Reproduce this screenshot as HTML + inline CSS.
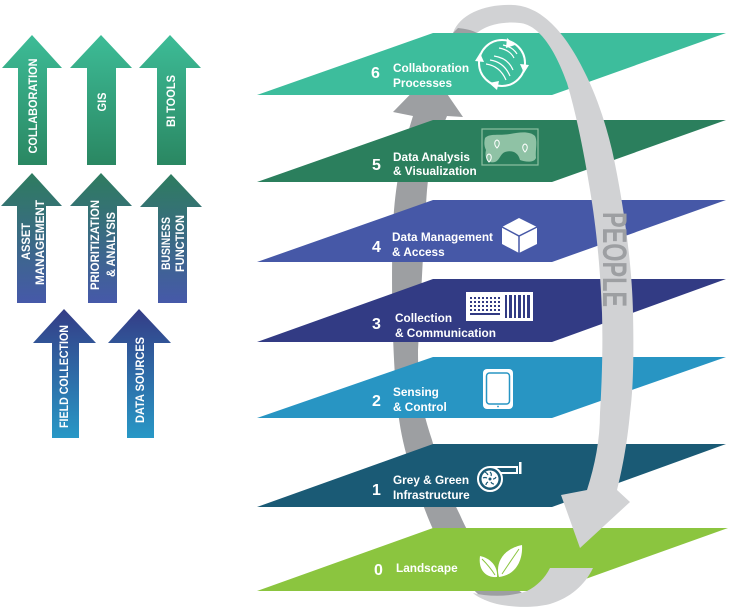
<!DOCTYPE html>
<html>
<head>
<meta charset="utf-8">
<style>
html,body{margin:0;padding:0;background:#fff;}
svg{display:block;}
text{font-family:"Liberation Sans",Arial,sans-serif;font-weight:bold;}
</style>
</head>
<body>
<svg width="743" height="616" viewBox="0 0 743 616" xmlns="http://www.w3.org/2000/svg">
<defs>
  <linearGradient id="g1" x1="0" y1="0" x2="0" y2="1">
    <stop offset="0" stop-color="#3dbc97"/>
    <stop offset="1" stop-color="#2a8762"/>
  </linearGradient>
  <linearGradient id="g2" x1="0" y1="0" x2="0" y2="1">
    <stop offset="0" stop-color="#2e7c5f"/>
    <stop offset="1" stop-color="#4659a9"/>
  </linearGradient>
  <linearGradient id="g3" x1="0" y1="0" x2="0" y2="1">
    <stop offset="0" stop-color="#343c86"/>
    <stop offset="1" stop-color="#2898c6"/>
  </linearGradient>
</defs>
<rect width="743" height="616" fill="#fff"/>

<!-- Left arrows -->
<polygon points="32,35 62,68 47,68 47,165 18,165 18,68 2,68" fill="url(#g1)"/>
<polygon points="101,35 132,68 116,68 116,165 87,165 87,68 70,68" fill="url(#g1)"/>
<polygon points="170,35 201,68 186,68 186,165 157,165 157,68 139,68" fill="url(#g1)"/>
<polygon points="32,173 62,206 46,206 46,303 17,303 17,206 1,206" fill="url(#g2)"/>
<polygon points="101,173 132,206 117,206 117,303 88,303 88,206 70,206" fill="url(#g2)"/>
<polygon points="171,174 202,207 187,207 187,303 158,303 158,207 140,207" fill="url(#g2)"/>
<polygon points="64,309 96,343 79,343 79,438 52,438 52,343 33,343" fill="url(#g3)"/>
<polygon points="139,309 171,343 154,343 154,438 127,438 127,343 108,343" fill="url(#g3)"/>

<g fill="#fff" font-size="12" text-anchor="middle">
  <text transform="translate(37,106) rotate(-90)" textLength="95" lengthAdjust="spacingAndGlyphs">COLLABORATION</text>
  <text transform="translate(106,102) rotate(-90)" textLength="19" lengthAdjust="spacingAndGlyphs">GIS</text>
  <text transform="translate(175,101) rotate(-90)" textLength="52" lengthAdjust="spacingAndGlyphs">BI TOOLS</text>
  <text transform="translate(30,241.5) rotate(-90)" textLength="37" lengthAdjust="spacingAndGlyphs">ASSET</text>
  <text transform="translate(44,242.5) rotate(-90)" textLength="85" lengthAdjust="spacingAndGlyphs">MANAGEMENT</text>
  <text transform="translate(99,245) rotate(-90)" textLength="90" lengthAdjust="spacingAndGlyphs">PRIORITIZATION</text>
  <text transform="translate(115,244.5) rotate(-90)" textLength="65" lengthAdjust="spacingAndGlyphs">&amp; ANALYSIS</text>
  <text transform="translate(170,243.5) rotate(-90)" textLength="53" lengthAdjust="spacingAndGlyphs">BUSINESS</text>
  <text transform="translate(184,243.5) rotate(-90)" textLength="57" lengthAdjust="spacingAndGlyphs">FUNCTION</text>
  <text transform="translate(68,376.5) rotate(-90)" textLength="103" lengthAdjust="spacingAndGlyphs">FIELD COLLECTION</text>
  <text transform="translate(144,380) rotate(-90)" textLength="86" lengthAdjust="spacingAndGlyphs">DATA SOURCES</text>
</g>

<!-- Dark gray band (behind layers) -->
<path d="M413,116 L393,112 L432,72 L463,117 L447,116 C437,140 429,165 427,190 C424,230 421,300 418,350 C418,390 422,410 432,440 C440,470 450,495 460,515 C475,550 500,580 530,598 L485,600 C460,580 440,550 425,510 C410,470 400,440 397,400 C392,350 391,270 393,230 C394,190 402,150 413,116 Z" fill="#9d9fa2"/>

<!-- Layers -->
<polygon points="433,33 726,33 552,95 257,95" fill="#3dbd9c"/>
<polygon points="433,120 726,120 552,182 257,182" fill="#2b7f5d"/>
<polygon points="433,200 726,200 552,262 257,262" fill="#4658a7"/>
<polygon points="433,279 726,279 552,342 257,342" fill="#323b84"/>
<polygon points="433,357 726,357 552,418 257,418" fill="#2895c3"/>
<polygon points="433,444 726,444 552,507 257,507" fill="#1a5a75"/>
<polygon points="433,528 728,528 552,591 257,591" fill="#8bc53f"/>

<!-- Layer labels -->
<g fill="#fff">
  <text x="371" y="78" font-size="16">6</text>
  <text x="393" y="72" font-size="11.8">Collaboration</text>
  <text x="393" y="87" font-size="11.8">Processes</text>

  <text x="372" y="170" font-size="16">5</text>
  <text x="393" y="161" font-size="11.8">Data Analysis</text>
  <text x="393" y="175" font-size="11.8">&amp; Visualization</text>

  <text x="372" y="252" font-size="16">4</text>
  <text x="392" y="241" font-size="11.8">Data Management</text>
  <text x="392" y="256" font-size="11.8">&amp; Access</text>

  <text x="372" y="329" font-size="16">3</text>
  <text x="395" y="322" font-size="11.8">Collection</text>
  <text x="395" y="337" font-size="11.8">&amp; Communication</text>

  <text x="372" y="406" font-size="16">2</text>
  <text x="393" y="396" font-size="11.8">Sensing</text>
  <text x="393" y="411" font-size="11.8">&amp; Control</text>

  <text x="372" y="495" font-size="16">1</text>
  <text x="393" y="484" font-size="11.8">Grey &amp; Green</text>
  <text x="393" y="499" font-size="11.8">Infrastructure</text>

  <text x="374" y="575" font-size="16">0</text>
  <text x="396" y="572" font-size="11.8">Landscape</text>
</g>

<!-- Icon 6: collaboration cycle -->
<g>
  <circle cx="502" cy="63" r="23" fill="none" stroke="#fff" stroke-width="2"/>
  <polygon points="515,45 507,38 506,48" fill="#fff"/>
  <polygon points="524,73 520,64 529,65" fill="#fff"/>
  <polygon points="489,83 499,81 497,90" fill="#fff"/>
  <polygon points="480,53 484,62 475,61" fill="#fff"/>
  <g fill="none" stroke="#fff" stroke-width="1.2">
    <path d="M486,64 Q500,66 506,80"/>
    <path d="M490,60 Q504,62 510,76"/>
    <path d="M494,56 Q508,58 513,70"/>
    <path d="M499,48 Q510,50 514,58"/>
    <path d="M503,45 Q513,47 517,54"/>
  </g>
</g>

<!-- Icon 5: map -->
<g>
  <rect x="482" y="129" width="56" height="36" fill="none" stroke="#8dc0a2" stroke-width="1.2"/>
  <path d="M485,138 C490,133 500,136 510,134 C520,132 530,131 535,136 C538,142 535,150 536,158 C534,163 525,162 520,160 C518,152 512,150 505,152 C500,154 500,160 495,162 C488,164 484,158 486,150 C484,146 484,142 485,138 Z" fill="#8fc2a5"/>
  <g fill="none" stroke="#fff" stroke-width="1">
    <path d="M497,148 C494,145 494,141 497,140 C500,141 500,145 497,148 Z"/>
    <path d="M525,152 C522,149 522,145 525,144 C528,145 528,149 525,152 Z"/>
    <path d="M489,162 C486,159 486,155 489,154 C492,155 492,159 489,162 Z"/>
  </g>
</g>

<!-- Icon 4: cube -->
<g>
  <polygon points="519,218 537,227 537,244 519,253 502,244 502,227" fill="#fff"/>
  <polyline points="502,227 519,236 537,227" fill="none" stroke="#4658a7" stroke-width="1.5"/>
  <line x1="519" y1="236" x2="519" y2="253" stroke="#4658a7" stroke-width="1.5"/>
</g>

<!-- Icon 3: keyboard + barcode -->
<g>
  <rect x="466" y="292" width="67" height="29" fill="#fff"/>
  <g fill="#323b84">
    <rect x="470" y="297" width="2" height="2"/><rect x="474" y="297" width="2" height="2"/><rect x="478" y="297" width="2" height="2"/><rect x="482" y="297" width="2" height="2"/><rect x="486" y="297" width="2" height="2"/><rect x="490" y="297" width="2" height="2"/><rect x="494" y="297" width="2" height="2"/><rect x="498" y="297" width="2" height="2"/>
    <rect x="470" y="301" width="2" height="2"/><rect x="474" y="301" width="2" height="2"/><rect x="478" y="301" width="2" height="2"/><rect x="482" y="301" width="2" height="2"/><rect x="486" y="301" width="2" height="2"/><rect x="490" y="301" width="2" height="2"/><rect x="494" y="301" width="2" height="2"/><rect x="498" y="301" width="2" height="2"/>
    <rect x="470" y="305" width="2" height="2"/><rect x="474" y="305" width="2" height="2"/><rect x="478" y="305" width="2" height="2"/><rect x="482" y="305" width="2" height="2"/><rect x="486" y="305" width="2" height="2"/><rect x="490" y="305" width="2" height="2"/><rect x="494" y="305" width="2" height="2"/><rect x="498" y="305" width="2" height="2"/>
    <rect x="470" y="309" width="2" height="2"/><rect x="474" y="309" width="2" height="2"/><rect x="478" y="309" width="2" height="2"/><rect x="482" y="309" width="2" height="2"/><rect x="486" y="309" width="2" height="2"/><rect x="490" y="309" width="2" height="2"/><rect x="494" y="309" width="2" height="2"/><rect x="498" y="309" width="2" height="2"/>
    <rect x="470" y="313" width="30" height="2"/>
    <rect x="505" y="295" width="2" height="23"/>
    <rect x="509" y="295" width="3" height="23"/>
    <rect x="514" y="295" width="2" height="23"/>
    <rect x="518" y="295" width="3" height="23"/>
    <rect x="523" y="295" width="2" height="23"/>
    <rect x="527" y="295" width="3" height="23"/>
  </g>
</g>

<!-- Icon 2: tablet -->
<g>
  <rect x="483" y="369" width="30" height="40" rx="4" fill="#fff"/>
  <rect x="486.5" y="373" width="23" height="31" rx="3" fill="#fff" stroke="#2895c3" stroke-width="1.5"/>
  <circle cx="498" cy="406.5" r="0.9" fill="#2895c3"/>
</g>

<!-- Icon 1: pump -->
<g>
  <path d="M490,467 L517,467 L517,473 L501,473" fill="none" stroke="#fff" stroke-width="2"/>
  <rect x="519" y="462" width="2.5" height="12" fill="#fff"/>
  <circle cx="490" cy="479" r="12" fill="#1a5a75" stroke="#fff" stroke-width="2"/>
  <circle cx="490" cy="479" r="8.5" fill="#fff"/>
  <g stroke="#1a5a75" stroke-width="1.2" fill="none">
    <path d="M490,472 Q492,474 491,476"/>
    <path d="M496,477 Q495,479 493,479"/>
    <path d="M494,484 Q492,484 491,482"/>
    <path d="M486,485 Q486,483 488,482"/>
    <path d="M483,478 Q485,477 487,478"/>
    <path d="M485,472 Q487,473 488,475"/>
  </g>
  <circle cx="490" cy="479" r="1.5" fill="#1a5a75"/>
</g>

<!-- Icon 0: leaves -->
<g>
  <path d="M497,577 C486,578 478,570 480,556 C490,558 498,566 497,577 Z" fill="#fff"/>
  <path d="M482,559 Q490,567 495,575" fill="none" stroke="#8bc53f" stroke-width="1"/>
  <path d="M499,577 C495,563 503,549 522,545 C523,560 516,575 499,577 Z" fill="#fff"/>
  <path d="M502,574 Q510,562 519,549" fill="none" stroke="#8bc53f" stroke-width="1"/>
</g>

<!-- Light gray band (front) -->
<path d="M453,33 C460,14 485,4 513,5 C540,6 565,30 587,77 C598,100 606,125 612,150 C622,195 632,260 633,313 C634,360 633,390 630,413 C627,445 622,470 617,490 L630,502 L580,548 L561,495 L587,490 C595,465 600,440 600,413 C602,380 603,345 602,313 C600,260 595,220 590,190 C585,160 578,120 567,83 C556,52 540,25 520,23 C500,21 485,26 477,33 Z" fill="#d1d2d4"/>
<path d="M453,33 L477,33 C472,30 466,29 458,28 Z" fill="#9d9fa2"/>

<!-- Bottom light ribbon -->
<path d="M550,568 L593,568 C585,585 570,598 550,604 C530,609 505,607 490,602 C482,599 476,596 473,593 C490,597 510,597 527,591 C537,586 545,578 550,568 Z" fill="#d1d2d4"/>

<!-- PEOPLE -->
<text transform="translate(603,259.5) rotate(90)" text-anchor="middle" font-size="34" textLength="95" lengthAdjust="spacingAndGlyphs" fill="#9d9fa2">PEOPLE</text>
</svg>
</body>
</html>
